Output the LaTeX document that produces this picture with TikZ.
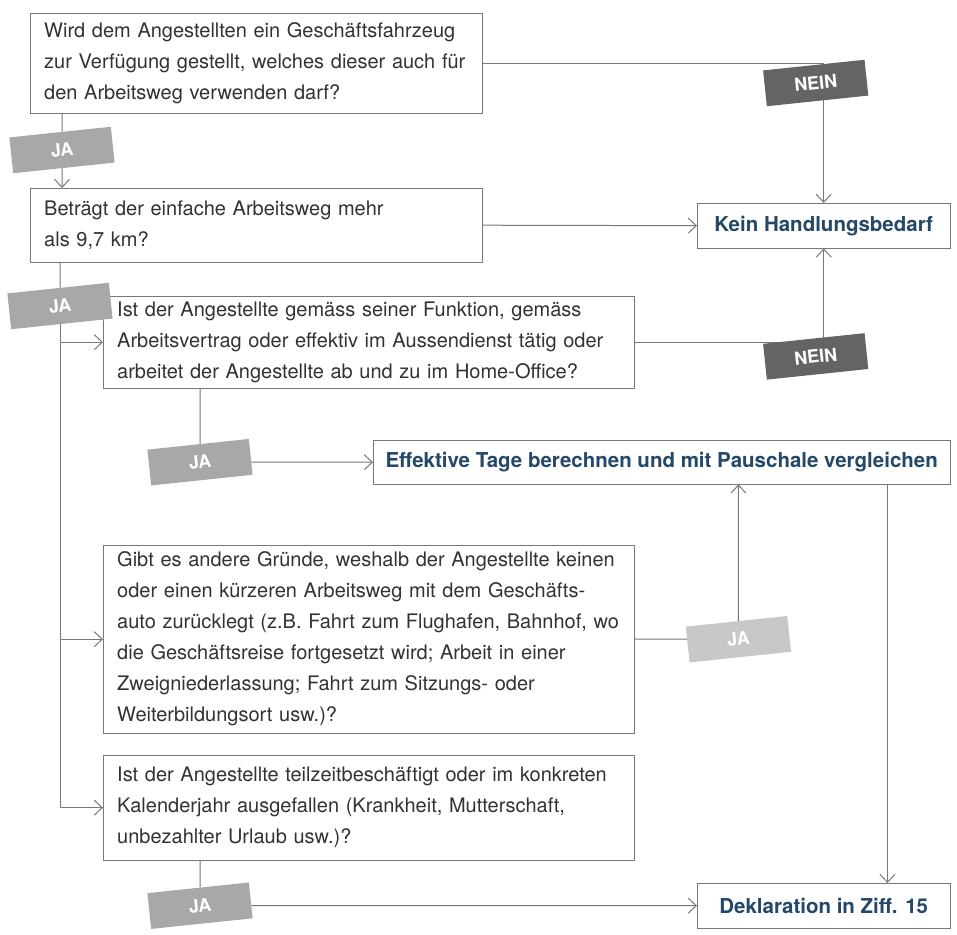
\documentclass[tikz,border=0pt]{standalone}
\usepackage{fontspec}
\setmainfont{TeX Gyre Heros}
\usetikzlibrary{shapes,arrows.meta,positioning,calc}
\definecolor{linegray}{RGB}{120,120,120}
\definecolor{textgray}{RGB}{50,50,50}
\definecolor{jagray}{RGB}{168,168,168}
\definecolor{jalight}{RGB}{200,200,200}
\definecolor{neingray}{RGB}{100,100,100}
\definecolor{resblue}{RGB}{36,72,104}
\tikzset{
question/.style = {draw=linegray, fill=white, rectangle, anchor=north west, align=left, inner xsep=14pt, inner ysep=0pt, text=textgray, font=\fontsize{20}{31}\selectfont},
result/.style = {draw=linegray, fill=white, rectangle, anchor=north west, inner sep=0pt, text=resblue, font=\fontsize{20.5}{24}\selectfont\bfseries},
tag/.style = {fill=jagray, text=white, rectangle, minimum width=102pt, minimum height=36pt, inner sep=0pt, rotate=6, font=\fontsize{18}{20}\selectfont\bfseries},
jatag/.style = {tag},
neintag/.style = {tag, fill=neingray},
conn/.style = {draw=linegray, line width=1pt}
}
\begin{document}
\begin{tikzpicture}[x=1pt, y=-1pt, >={Straight Barb[length=8pt,width=15pt]}]
\useasboundingbox (0,0) rectangle (957,934);

                % questions
                \node [question, text width=424pt, minimum height=100pt] (q1) at (30,13) {Wird dem Angestellten ein Geschäftsfahrzeug\\zur Verfügung gestellt, welches dieser auch für\\den Arbeitsweg verwenden darf?};
                \node [question, text width=424pt, minimum height=74pt] (q2) at (30,188) {Beträgt der einfache Arbeitsweg mehr\\als 9,7 km?};
                \node [question, text width=503pt, minimum height=92pt] (q3) at (103,296) {Ist der Angestellte gemäss seiner Funktion, gemäss\\Arbeitsvertrag oder effektiv im Aussendienst tätig oder\\arbeitet der Angestellte ab und zu im Home-Office?};
                \node [question, text width=503pt, minimum height=188pt] (q4) at (103,545) {Gibt es andere Gründe, weshalb der Angestellte keinen\\oder einen kürzeren Arbeitsweg mit dem Geschäfts-\\auto zurücklegt (z.B. Fahrt zum Flughafen, Bahnhof, wo\\die Geschäftsreise fortgesetzt wird; Arbeit in einer\\Zweigniederlassung; Fahrt zum Sitzungs- oder\\Weiterbildungsort usw.)?};
                \node [question, text width=503pt, minimum height=105pt] (q5) at (103,755) {Ist der Angestellte teilzeitbeschäftigt oder im konkreten\\Kalenderjahr ausgefallen (Krankheit, Mutterschaft,\\unbezahlter Urlaub usw.)?};

                % results
                \node [result, minimum width=253pt, minimum height=45pt] (kein) at (697,203) {Kein Handlungsbedarf};
                \node [result, minimum width=577pt, minimum height=44pt] (eff) at (373,440) {Effektive Tage berechnen und mit Pauschale vergleichen};
                \node [result, minimum width=253pt, minimum height=45pt] (dekl) at (697,883) {Deklaration in Ziff. 15};

                % JA tags
                \node [jatag] (ja1) at (62,150) {JA};
                \node [jatag] (ja2) at (60,306) {JA};
                \node [jatag] (ja3) at ($(eff.west)+(-173,0)$) {JA};
                \node [jatag, fill=jalight] (ja4) at ($(q4.east)+(104,0)$) {JA};
                \node [jatag] (ja5) at ($(dekl.west)+(-497,0)$) {JA};
                \coordinate (effout) at ($(eff.south east)+(-63,0)$);

                \draw [conn] (q1.south -| ja1) -- (ja1);
                \draw [conn,->] (ja1) -- (ja1 |- q2.north);
                \draw [conn,->] (q2.east) -- (kein.west);
                \draw [conn] (q2.south -| ja2) -- (ja2);
                \draw [conn,->] (ja2 |- q3.west) -- (q3.west);
                \draw [conn,->] (ja2 |- q4.west) -- (q4.west);
                \draw [conn,->] (ja2) |- (q5.west);
                \draw [conn] (q3.south -| ja3) -- (ja3);
                \draw [conn,->] (ja3) -- (eff.west);
                \draw [conn] (q4.east) -- (ja4);
                \draw [conn,->] (ja4) -- (ja4 |- eff.south);
                \draw [conn,->] (effout) -- (effout |- dekl.north);
                \draw [conn] (q5.south -| ja5) -- (ja5);
                \draw [conn,->] (ja5) -- (dekl.west);
                \draw [conn,->] (q1.east) -| (kein.north);
                \draw [conn,->] (q3.east) -| (kein.south);

                % NEIN tags
                \node [neintag] (nein1) at ($(kein.north)+(-8,-120)$) {NEIN};
                \node [neintag] (nein2) at ($(kein.south)+(-8,108)$) {NEIN};
\end{tikzpicture}
\end{document}
